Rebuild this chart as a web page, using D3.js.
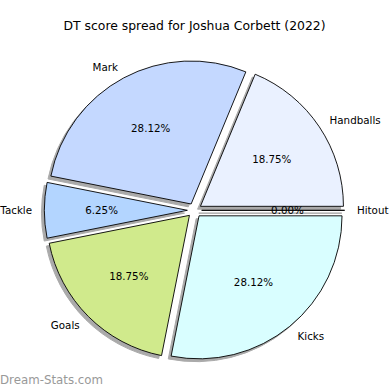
<!DOCTYPE html>
<html>
<head>
<meta charset="utf-8">
<script src="https://cdn.jsdelivr.net/npm/d3@7"></script>
<style>
  body { margin: 0; background: #fff; }
  text { font-family: "DejaVu Sans", sans-serif; fill: #000; }
</style>
</head>
<body>
<div id="chart"></div>
<script>
// データ（反時計回り、3時の方向から）
var categories = ["Hitout", "Handballs", "Mark", "Tackle", "Goals", "Kicks"];
var counts = [0, 6, 9, 2, 6, 9];
var colors = ["#ffffff", "#eaf1ff", "#c4d8ff", "#b3d5ff", "#d0ea8c", "#d9feff"];
var title = "DT score spread for Joshua Corbett (2022)";

var width = 390, height = 390;
var cx = 194.5, cy = 210.3, r = 143;
var explode = 0.05 * r;
var shadowOff = 0.02 * r;

var total = d3.sum(counts);

// matplotlib の %1.2f と同じ丸め（偶数丸め）
function pctText(v) {
    var x = v / total * 10000;
    var f = Math.floor(x), d = x - f;
    var n = (Math.abs(d - 0.5) < 1e-9) ? (f % 2 === 0 ? f : f + 1) : Math.round(x);
    return (n / 100).toFixed(2) + "%";
}

var svg = d3.select("#chart").append("svg")
    .attr("width", width)
    .attr("height", height);

svg.append("text")
    .attr("x", 194.5)
    .attr("y", 29.5)
    .attr("text-anchor", "middle")
    .style("font-size", "12.4px")
    .text(title);

var data = categories.map(function(c, i){ return {name: c, value: counts[i], color: colors[i]}; });

// 3時の方向から反時計回り
var pie = d3.pie()
    .sort(null)
    .value(function(d){ return d.value; })
    .startAngle(Math.PI / 2)
    .endAngle(Math.PI / 2 - 2 * Math.PI);

var arcs = pie(data);
var arc = d3.arc().innerRadius(0).outerRadius(r);

function offset(d, dist) {
    var a = (d.startAngle + d.endAngle) / 2;
    return [Math.sin(a) * dist, -Math.cos(a) * dist];
}

var g = svg.append("g").attr("transform", "translate(" + cx + "," + cy + ")");

// 影
g.selectAll("path.shadow")
    .data(arcs)
    .enter()
    .append("path")
    .attr("class", "shadow")
    .attr("transform", function(d){
        var o = offset(d, explode);
        return "translate(" + (o[0] - shadowOff) + "," + (o[1] + shadowOff) + ")";
    })
    .attr("d", arc)
    .attr("fill", "#666")
    .attr("stroke", "#666")
    .attr("stroke-width", 1)
    .attr("opacity", 0.55);

g.selectAll("path.slice")
    .data(arcs)
    .enter()
    .append("path")
    .attr("class", "slice")
    .attr("transform", function(d){
        var o = offset(d, explode);
        return "translate(" + o[0] + "," + o[1] + ")";
    })
    .attr("d", arc)
    .attr("fill", function(d){ return d.data.color; })
    .attr("stroke", "#000")
    .attr("stroke-width", 0.9)
    .attr("stroke-linejoin", "round");

// ラベル
var labelDist = explode + 1.1 * r - 2;
g.selectAll("text.label")
    .data(arcs)
    .enter()
    .append("text")
    .attr("class", "label")
    .attr("x", function(d){ return offset(d, labelDist)[0]; })
    .attr("y", function(d){ return offset(d, labelDist)[1]; })
    .attr("text-anchor", function(d){ return offset(d, 1)[0] > 0 ? "start" : "end"; })
    .attr("dominant-baseline", "central")
    .style("font-size", "10.3px")
    .text(function(d){ return d.data.name; });

g.selectAll("text.pct")
    .data(arcs)
    .enter()
    .append("text")
    .attr("class", "pct")
    .attr("x", function(d){ return offset(d, explode + 0.6 * r)[0]; })
    .attr("y", function(d){ return offset(d, explode + 0.6 * r)[1]; })
    .attr("text-anchor", "middle")
    .attr("dominant-baseline", "central")
    .style("font-size", "10.3px")
    .text(function(d){ return pctText(d.data.value); });

svg.append("text")
    .attr("x", 0)
    .attr("y", 384)
    .style("font-size", "11.8px")
    .style("fill", "#999")
    .text("Dream-Stats.com");
</script>
</body>
</html>
